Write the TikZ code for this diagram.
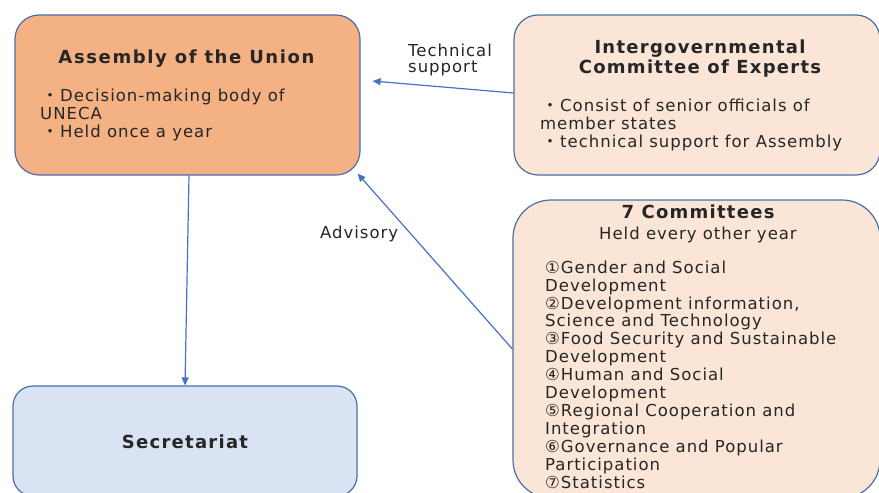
\documentclass[tikz,border=0pt]{standalone}
\usepackage{fontspec}
\setmainfont{DejaVu Sans}[LetterSpace=6]
\newfontfamily\cjk{Noto Sans CJK JP}
\usetikzlibrary{arrows.meta}

\definecolor{asmfill}{HTML}{F4B183}
\definecolor{lightfill}{HTML}{FBE5D6}
\definecolor{secfill}{HTML}{DAE3F3}
\definecolor{boxline}{HTML}{4A6EA8}
\definecolor{arrowblue}{HTML}{4472C4}
\definecolor{ink}{HTML}{262626}

% bullet mark used in the box descriptions
\newcommand\bul{\makebox[20pt]{\cjk ・}}

\tikzset{
  orgbox/.style={draw=boxline, line width=1.2pt, rounded corners=24pt, inner sep=0pt},
  titletext/.style={inner sep=0pt, text=ink, align=center,
    font=\fontsize{18}{20}\selectfont\bfseries\addfontfeatures{LetterSpace=7}},
  bodytext/.style={inner sep=0pt, text=ink, align=left,
    font=\fontsize{16.5}{17.9}\selectfont},
  labeltext/.style={inner sep=0pt, text=ink, align=left,
    font=\fontsize{16.5}{15.5}\selectfont},
  link/.style={draw=arrowblue, line width=1.2pt,
    -{Triangle[length=8pt,width=7pt]}}
}

\begin{document}
\begin{tikzpicture}[x=1pt,y=-1pt]
\useasboundingbox (0,0) rectangle (879,493);

% boxes
\node[orgbox, fill=asmfill, minimum width=345pt, minimum height=160pt] (asm) at (187.5,95) {};
\node[orgbox, fill=lightfill, minimum width=366pt, minimum height=160pt] (igce) at (697,95) {};
\node[orgbox, fill=lightfill, rounded corners=38pt, minimum width=367pt, minimum height=298pt] (com) at (696.5,349) {};
\node[orgbox, fill=secfill, rounded corners=20pt, minimum width=344pt, minimum height=110pt] (sec) at (185,441) {};

% Assembly of the Union (multi-line texts are placed by their last baseline)
\node[titletext, anchor=base] (asm-t) at (186.5,63)
  {\addfontfeatures{LetterSpace=9}Assembly of the Union};
\node[bodytext, anchor=base west] (asm-b) at (40,137.5)
  {\bul Decision-making body of\\UNECA\\\bul Held once a year};

% Intergovernmental Committee of Experts
\node[titletext, anchor=base] (igce-t) at (700,73) {Intergovernmental\\Committee of Experts};
\node[bodytext, anchor=base west] (igce-b) at (540,147.5)
  {\bul Consist of senior officials of\\member states\\\bul technical support for Assembly};

% 7 Committees
\node[titletext, anchor=base] (com-t) at (698,218) {7 Committees};
\node[bodytext, anchor=base] (com-s) at (698,239) {Held every other year};
\node[bodytext, anchor=base west] (com-b) at (545,488)
  {①Gender and Social\\Development\\②Development information,\\Science and Technology\\
   ③Food Security and Sustainable\\Development\\④Human and Social\\Development\\
   ⑤Regional Cooperation and\\Integration\\⑥Governance and Popular\\Participation\\⑦Statistics};

% Secretariat
\node[titletext, anchor=base] (sec-t) at (185,448) {Secretariat};

% connectors
\draw[link] ([xshift=1.5pt]asm.south) -- (sec.north);
\draw[link] ([yshift=2pt]igce.west) -- ([xshift=12pt,yshift=14pt]asm.east);
\draw[link] (com.west) -- ([xshift=-3pt,yshift=2pt]asm.south east);

% connector labels
\node[labeltext, anchor=base west] (tech) at (408,72) {Technical\\support};
\node[labeltext, anchor=base west] (adv) at (320,238) {Advisory};
\end{tikzpicture}
\end{document}
